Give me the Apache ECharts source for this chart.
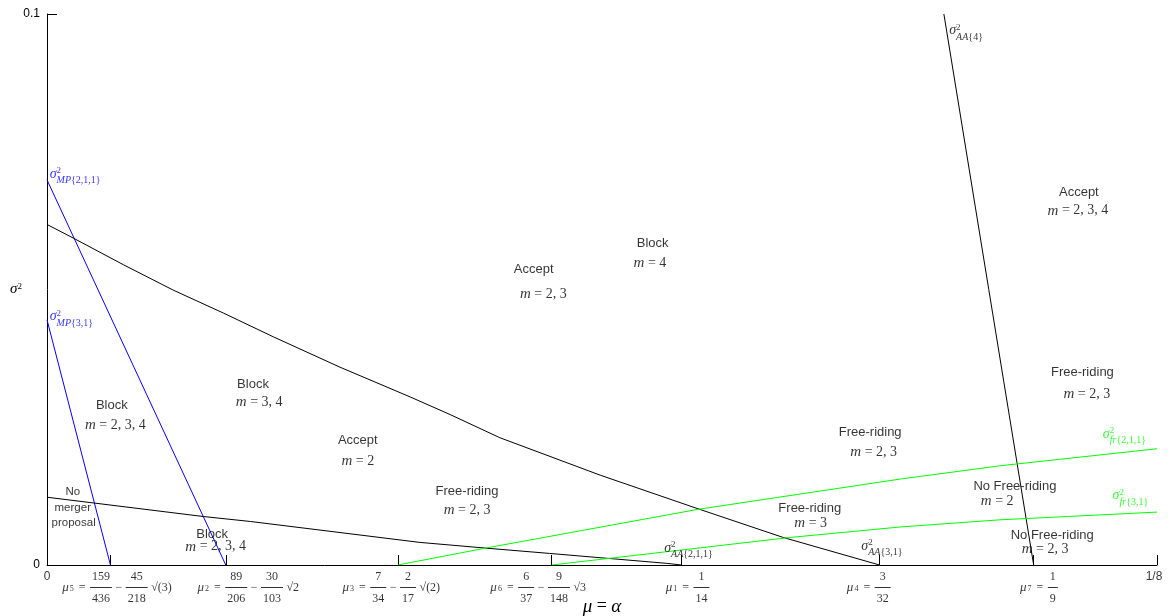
<!DOCTYPE html>
<html>
<head>
<meta charset="utf-8">
<script src="https://cdn.jsdelivr.net/npm/echarts@6/dist/echarts.min.js"></script>
<style>
  html, body { margin: 0; padding: 0; background: #fff; }
  #chart { width: 1171px; height: 616px; }
</style>
</head>
<body>
<div id="chart"></div>
<script>
// ---- thresholds on the mu axis (closed forms as printed under the axis) ----
const MU5 = 159 / 436 - (45 / 218) * Math.sqrt(3);
const MU2 = 89 / 206 - (30 / 103) * Math.SQRT2;
const MU3 = 7 / 34 - (2 / 17) * Math.SQRT2;
const MU6 = 6 / 37 - (9 / 148) * Math.sqrt(3);
const MU1 = 1 / 14;
const MU4 = 3 / 32;
const MU7 = 1 / 9;
const X_MAX = 1 / 8;
const Y_MAX = 0.1;

const tickValues = [MU5, MU2, MU3, MU6, MU1, MU4, MU7, X_MAX];
const labelValues = [0, MU5, MU2, MU3, MU6, MU1, MU4, MU7, X_MAX];
const tickLabels = [
  '0',
  { sub: '5', terms: [['159', '436'], '−', ['45', '218'], '√(3)'] },
  { sub: '2', terms: [['89', '206'], '−', ['30', '103'], '√2'] },
  { sub: '3', terms: [['7', '34'], '−', ['2', '17'], '√(2)'] },
  { sub: '6', terms: [['6', '37'], '−', ['9', '148'], '√3'] },
  { sub: '1', terms: [['1', '14']] },
  { sub: '4', terms: [['3', '32']] },
  { sub: '7', terms: [['1', '9']] },
  '1/8'
];

// ---- boundary curves (mu, sigma^2) ----
const sigmaMP211 = [[0, 0.0699], [MU2, 0]];
const sigmaMP31 = [[0, 0.0445], [MU5, 0]];
const sigmaAA4 = [[0.1010, 0.1], [MU7, 0]];
const sigmaAA31 = [
  [0, 0.0618], [0.0030, 0.0593], [0.0086, 0.0545], [0.0142, 0.0499], [0.0199, 0.0457],
  [0.0255, 0.0414], [0.0330, 0.0359], [0.0409, 0.0305], [0.0454, 0.0273], [0.0510, 0.0231],
  [0.0623, 0.0163], [0.0735, 0.0101], [0.0829, 0.0050], [MU4, 0]
];
const sigmaAA211 = [
  [0, 0.0123], [0.0176, 0.0088], [0.0229, 0.0079], [0.0420, 0.0041],
  [0.0499, 0.0030], [0.0566, 0.0021], [0.0698, 0.0003], [MU1, 0]
];
const sigmaFr211 = [[MU3, 0], [0.0495, 0.0031], [0.0733, 0.0101], [0.0961, 0.0156], [0.1073, 0.0180], [X_MAX, 0.0211]];
const sigmaFr31 = [[MU6, 0], [0.0837, 0.0050], [0.0961, 0.0069], [0.1073, 0.0082], [X_MAX, 0.0096]];

// ---- curve names, anchored at the left of the sigma ----
const curveNames = [
  [0.0003, 0.0706, 'MP', '2,1,1', 'blue'],
  [0.0003, 0.0447, 'MP', '3,1', 'blue'],
  [0.1016, 0.0966, 'AA', '4', 'black'],
  [0.0695, 0.0027, 'AA', '2,1,1', 'black'],
  [0.0917, 0.0031, 'AA', '3,1', 'black'],
  [0.1189, 0.0234, 'fr', '2,1,1', 'green'],
  [0.1200, 0.0122, 'fr', '3,1', 'green']
];

// ---- region captions (centre of each text line) ----
const regionLabels = [
  [0.0682, 0.0584, 'Block'], [0.0679, 0.0548, 'm = 4'],
  [0.0548, 0.0537, 'Accept'], [0.0559, 0.0492, 'm = 2, 3'],
  [0.1162, 0.0677, 'Accept'], [0.1161, 0.0643, 'm = 2, 3, 4'],
  [0.1166, 0.0349, 'Free-riding'], [0.1171, 0.0310, 'm = 2, 3'],
  [0.0232, 0.0327, 'Block'], [0.0239, 0.0296, 'm = 3, 4'],
  [0.0073, 0.0289, 'Block'], [0.0077, 0.0254, 'm = 2, 3, 4'],
  [0.0350, 0.0227, 'Accept'], [0.0350, 0.0189, 'm = 2'],
  [0.0473, 0.0133, 'Free-riding'], [0.0473, 0.0100, 'm = 2, 3'],
  [0.0927, 0.0240, 'Free-riding'], [0.0931, 0.0205, 'm = 2, 3'],
  [0.0859, 0.0102, 'Free-riding'], [0.0860, 0.0076, 'm = 3'],
  [0.1090, 0.0143, 'No Free-riding'], [0.1070, 0.0116, 'm = 2'],
  [0.1132, 0.0054, 'No Free-riding'], [0.1124, 0.0029, 'm = 2, 3'],
  [0.0186, 0.0056, 'Block'], [0.0190, 0.0033, 'm = 2, 3, 4']
];
const noMergerLabels = [
  [0.0029, 0.0133, 'No'], [0.0029, 0.0103, 'merger'], [0.0030, 0.0076, 'proposal']
];

// ---------------------------------------------------------------------------
const MATH = "'Liberation Serif', 'DejaVu Serif', serif";
const SANS = "'Liberation Sans', Arial, sans-serif";
const COLORS = { blue: '#0000ff', black: '#000000', green: '#00ff00' };
// horizontal nudge (px) of each mu-axis label relative to its tick
const tickLabelShift = [0, 8, 24, -5, -12, 6, -11, 5, -3];

const measureCtx = document.createElement('canvas').getContext('2d');
function textWidth(text, font) {
  measureCtx.font = font;
  return measureCtx.measureText(text).width;
}

// rich styles for the stacked-fraction tick labels
const xRich = {};
let richCount = 0;
function addStyle(s) {
  const key = 'r' + (richCount++);
  xRich[key] = s;
  return key;
}
const FRAC_LINE = 11;
const FRAC_FONT = 12;
function cell(w, text, extra) {
  const s = Object.assign({
    width: w, align: 'center', lineHeight: FRAC_LINE,
    fontFamily: MATH, fontSize: FRAC_FONT, color: '#000'
  }, extra || {});
  return '{' + addStyle(s) + '|' + text + '}';
}
function blank(w) { return cell(w, ' '); }
function bar(w) {
  return '{' + addStyle({ width: w, height: 1, lineHeight: FRAC_LINE, backgroundColor: '#000' }) + '| }';
}
function fractionLabel(def) {
  const top = [], mid = [], bot = [];
  const f = FRAC_FONT + 'px ' + MATH;
  const muW = textWidth('μ', 'italic 13px ' + MATH) + 1;
  const subW = textWidth(def.sub, '8px ' + MATH) + 1;
  const eqW = textWidth('=', f) + 9;
  top.push(blank(muW + subW + eqW));
  bot.push(blank(muW + subW + eqW));
  mid.push(cell(muW, 'μ', { fontSize: 13, fontStyle: 'italic', align: 'right' }));
  mid.push(cell(subW, def.sub, { fontSize: 8, verticalAlign: 'bottom', lineHeight: 8, align: 'left' }));
  mid.push(cell(eqW, '='));
  def.terms.forEach(t => {
    if (typeof t === 'string') {
      const w = textWidth(t, f) + 7;
      top.push(blank(w)); mid.push(cell(w, t)); bot.push(blank(w));
    } else {
      const w = Math.max(textWidth(t[0], f), textWidth(t[1], f)) + 4;
      top.push(cell(w, t[0])); mid.push(bar(w)); bot.push(cell(w, t[1]));
    }
  });
  return top.join('') + '\n' + mid.join('') + '\n' + bot.join('');
}
const builtTickLabels = tickLabels.map(d => typeof d === 'string' ? d : fractionLabel(d));

// curve-name labels: sigma with superscript 2 and a set subscript
const sigmaW = textWidth('σ', 'italic 14px ' + MATH);
function curveNameItem(c) {
  const color = COLORS[c[4]];
  return {
    value: [c[0], c[1]],
    label: {
      formatter: '{gap| }{sup|2}\n{sig|σ}{it|' + c[2] + '}{up|{' + c[3] + '}}',
      color: color, fontFamily: MATH, fontSize: 10, lineHeight: 10,
      offset: [0, 2.5],
      rich: {
        gap: { width: sigmaW, lineHeight: 4, fontSize: 4 },
        sup: { fontFamily: MATH, fontSize: 9, color: color, lineHeight: 4 },
        sig: { fontFamily: MATH, fontSize: 14, fontStyle: 'italic', color: color, height: 2, verticalAlign: 'top', lineHeight: 15 },
        it: { fontFamily: MATH, fontSize: 10, fontStyle: 'italic', color: color, lineHeight: 10 },
        up: { fontFamily: MATH, fontSize: 10, color: color, lineHeight: 10 }
      }
    }
  };
}

function regionText(t) {
  if (t.indexOf('m = ') === 0) return '{mi|m}{mr| = ' + t.slice(4) + '}';
  return t;
}

function curve(data, color) {
  return {
    type: 'line', data: data, showSymbol: false, silent: true,
    lineStyle: { color: color, width: 1 }, z: 3
  };
}

const chart = echarts.init(document.getElementById('chart'), null, { renderer: 'canvas' });
chart.setOption({
  animation: false,
  backgroundColor: '#ffffff',
  grid: { left: 47, right: 14, top: 14, bottom: 51, containLabel: false, outerBoundsMode: 'none' },
  xAxis: {
    type: 'value', min: 0, max: X_MAX,
    name: '{i|μ} = {i|α}', nameLocation: 'middle', nameGap: 32, nameMoveOverlap: false,
    nameTextStyle: {
      fontFamily: MATH, fontSize: 18, color: '#000',
      rich: { i: { fontFamily: MATH, fontSize: 19, fontStyle: 'italic', color: '#000' } }
    },
    axisLine: { show: true, onZero: false, lineStyle: { color: '#000', width: 1 } },
    axisTick: { show: true, inside: true, length: 10, lineStyle: { color: '#000' }, customValues: tickValues },
    axisLabel: { show: false },
    splitLine: { show: false }
  },
  yAxis: {
    type: 'value', min: 0, max: Y_MAX, interval: Y_MAX,
    name: '{s|σ}{p|2}', nameLocation: 'middle', nameGap: 25, nameRotate: 0, nameMoveOverlap: false,
    nameTextStyle: {
      color: '#000',
      rich: {
        s: { fontFamily: MATH, fontSize: 15, fontStyle: 'italic', color: '#000' },
        p: { fontFamily: MATH, fontSize: 9, color: '#000', verticalAlign: 'top' }
      }
    },
    axisLine: { show: true, onZero: false, lineStyle: { color: '#000', width: 1 } },
    axisTick: { show: true, inside: true, length: 10, lineStyle: { color: '#000' } },
    axisLabel: {
      margin: 7, fontFamily: SANS, fontSize: 12, color: '#000',
      showMinLabel: true, showMaxLabel: true,
      formatter: v => (v === 0 ? '0' : '0.1')
    },
    splitLine: { show: false }
  },
  series: [
    curve(sigmaMP211, COLORS.blue),
    curve(sigmaMP31, COLORS.blue),
    curve(sigmaAA31, COLORS.black),
    curve(sigmaAA211, COLORS.black),
    curve(sigmaAA4, COLORS.black),
    curve(sigmaFr211, COLORS.green),
    curve(sigmaFr31, COLORS.green),
    {
      type: 'scatter', symbolSize: 0, silent: true, z: 5,
      data: regionLabels.map(r => ({ value: [r[0], r[1]], name: r[2] })),
      label: {
        show: true, position: 'inside', color: '#000', fontFamily: SANS, fontSize: 13,
        formatter: p => regionText(p.name),
        rich: {
          mi: { fontFamily: MATH, fontSize: 15, fontStyle: 'italic', color: '#000' },
          mr: { fontFamily: MATH, fontSize: 14, color: '#000' }
        }
      }
    },
    {
      type: 'scatter', symbolSize: 0, silent: true, z: 5,
      data: noMergerLabels.map(r => ({ value: [r[0], r[1]], name: r[2] })),
      label: { show: true, position: 'inside', color: '#000', fontFamily: SANS, fontSize: 11.5, formatter: p => p.name }
    },
    {
      type: 'scatter', symbolSize: 0, silent: true, z: 5,
      data: curveNames.map(curveNameItem),
      label: { show: true, position: 'right', distance: 0 }
    },
    {
      // labels under the mu axis, one per threshold tick
      type: 'scatter', symbolSize: 0, silent: true, clip: false, z: 5,
      data: labelValues.map((v, i) => ({
        value: [v, 0],
        label: { formatter: builtTickLabels[i], offset: [tickLabelShift[i], 0] }
      })),
      label: {
        show: true, position: 'bottom', distance: 6, color: '#000',
        fontFamily: SANS, fontSize: 12, rich: xRich
      }
    }
  ]
});
</script>
</body>
</html>
